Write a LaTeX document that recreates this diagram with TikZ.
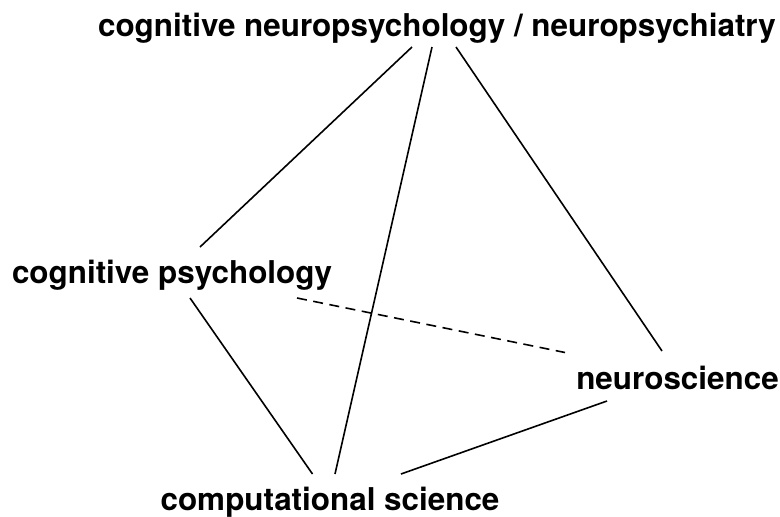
\documentclass[tikz,border=0pt]{standalone}
\usepackage{fontspec}
\setmainfont{TeX Gyre Heros}
\usepackage{tikz}

\tikzset{
    field/.style={inner sep=0pt, anchor=base, font=\fontsize{31.4}{31.4}\selectfont\bfseries},
    link/.style={line width=1.6pt},
    weak/.style={line width=1.6pt, dash pattern=on 10pt off 6.5pt}
}

\begin{document}
\begin{tikzpicture}[x=1pt,y=-1pt]
        \useasboundingbox (0,0) rectangle (780,517);
        \node[field] (cnp) at (437,36) {cognitive neuropsychology / neuropsychiatry};
        \node[field] (cp) at (172,283) {cognitive psychology};
        \node[field] (ns) at (677.5,389) {neuroscience};
        \node[field] (cs) at (330,510) {computational science};
        \draw[link] ([xshift=-25pt,yshift=-11pt]cnp.base) -- ([xshift=28pt,yshift=36pt]cp.base);
        \draw[link] ([xshift=-5pt,yshift=-11pt]cnp.base) -- ([xshift=5pt,yshift=36pt]cs.base);
        \draw[link] ([xshift=19pt,yshift=-11pt]cnp.base) -- ([xshift=-15.5pt,yshift=38pt]ns.base);
        \draw[weak] ([xshift=125pt,yshift=-15pt]cp.base) -- ([xshift=-112.5pt,yshift=36.5pt]ns.base);
        \draw[link] ([xshift=18pt,yshift=-15pt]cp.base) -- ([xshift=-17.5pt,yshift=36pt]cs.base);
        \draw[link] ([xshift=-70.5pt,yshift=-12pt]ns.base) -- ([xshift=71pt,yshift=36pt]cs.base);
    \end{tikzpicture}
\end{document}
